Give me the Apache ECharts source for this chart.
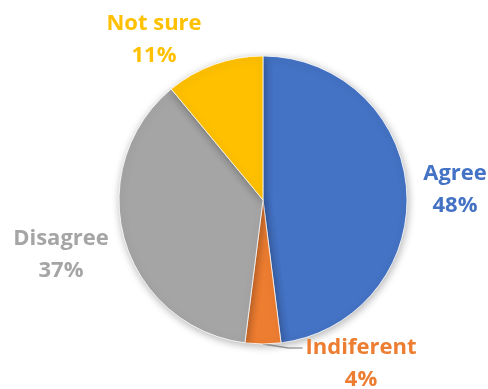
<!DOCTYPE html>
<html><head><meta charset="utf-8">
<script src="https://cdn.jsdelivr.net/npm/echarts@6/dist/echarts.min.js"></script>
<style>html,body{margin:0;padding:0;background:#fff}#c{width:488px;height:389px}</style>
</head><body><div id="c"></div>
<script>
const categories = ['Agree', 'Indiferent', 'Disagree', 'Not sure'];
const values = [48, 4, 37, 11];
const colors = ['#4472C4', '#ED7D31', '#A5A5A5', '#FFC000'];
const labelPos = [[455, 190], [361, 364], [61, 255], [154, 40]];
const FONT = 'bold 22px "Open Sans"';

const mctx = document.createElement('canvas').getContext('2d');
mctx.font = FONT;

const chart = echarts.init(document.getElementById('c'), null, {renderer: 'canvas'});
chart.setOption({
  animation: false,
  series: [{
    type: 'pie',
    center: [263, 200],
    radius: 144,
    startAngle: 90,
    clockwise: true,
    itemStyle: {
      borderColor: '#fff', borderWidth: 0.8,
      shadowBlur: 8, shadowColor: 'rgba(0,0,0,0.3)', shadowOffsetX: 1, shadowOffsetY: 2
    },
    label: {
      show: true,
      position: 'outside',
      formatter: '{b}\n{c}%',
      fontFamily: 'Open Sans',
      fontWeight: 'bold',
      fontSize: 22,
      lineHeight: 32,
      align: 'center',
      overflow: 'none',
      width: 200
    },
    labelLine: {show: false},
    labelLayout: function (p) {
      const pos = labelPos[p.dataIndex];
      const res = {x: pos[0], y: pos[1], align: 'center', verticalAlign: 'middle'};
      if (p.dataIndex === 1 && p.labelLinePoints) {
        const s = p.labelLinePoints[0];
        const ly = pos[1] - 16;
        const w = mctx.measureText(categories[1]).width;
        const ex = pos[0] - w / 2 - 3;
        res.labelLinePoints = [[s[0], s[1]], [ex - 14, ly], [ex, ly]];
      }
      return res;
    },
    data: categories.map((n, i) => ({
      name: n, value: values[i],
      itemStyle: {color: colors[i]},
      label: {color: colors[i]},
      labelLine: i === 1 ? {show: true, length: 6, length2: 18, lineStyle: {color: '#A6A6A6', width: 1.5}} : {show: false}
    }))
  }]
});
</script></body></html>
